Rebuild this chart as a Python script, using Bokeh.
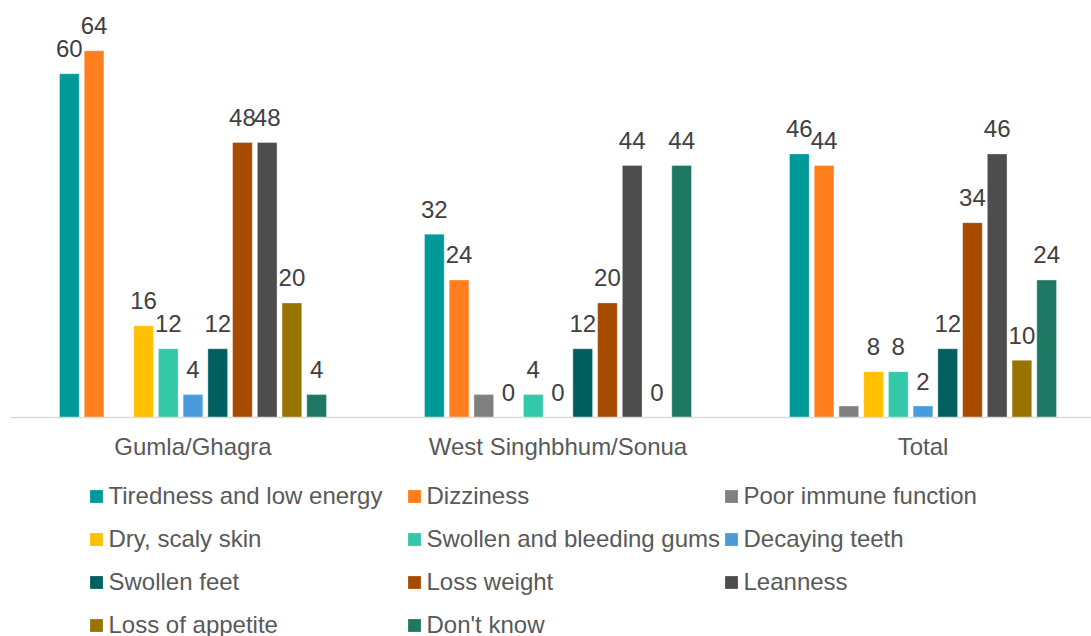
from bokeh.plotting import figure
from bokeh.layouts import column
from bokeh.models import ColumnDataSource, Range1d, FixedTicker, Legend, LegendItem
from bokeh.core.properties import value
from bokeh.embed import file_html
from bokeh.resources import INLINE

# Districts shown along the x axis
districts = ["Gumla/Ghagra", "West Singhbhum/Sonua", "Total"]

# Percentage of respondents naming each symptom, per district
symptoms = [
    "Tiredness and low energy",
    "Dizziness",
    "Poor immune function",
    "Dry, scaly skin",
    "Swollen and bleeding gums",
    "Decaying teeth",
    "Swollen feet",
    "Loss weight",
    "Leanness",
    "Loss of appetite",
    "Don't know",
]
tiredness = [60, 32, 46]
dizziness = [64, 24, 44]
poor_immune = [0, 4, 2]
dry_skin = [16, 0, 8]
bleeding_gums = [12, 4, 8]
decaying_teeth = [4, 0, 2]
swollen_feet = [12, 12, 12]
loss_weight = [48, 20, 34]
leanness = [48, 44, 46]
loss_appetite = [20, 0, 10]
dont_know = [4, 44, 24]

series = [tiredness, dizziness, poor_immune, dry_skin, bleeding_gums,
          decaying_teeth, swollen_feet, loss_weight, leanness,
          loss_appetite, dont_know]

# Value labels are shown for every series except "Poor immune function"
labelled = [True, True, False, True, True, True, True, True, True, True, True]

colors = ["#009999", "#FF7F1E", "#808080", "#FFC000", "#32C8A8", "#4A9BDC",
          "#005F5F", "#A64B00", "#4D4D4D", "#997300", "#1F7864"]

FONT = "Liberation Sans"
PX_PER_CAT = 365.0
PITCH = 0.06775
BAR_W = 0.054
WIDTH = 1091
CHART_H = 470
LEGEND_H = 166

# ---- bar chart -------------------------------------------------------------
p = figure(width=WIDTH, height=CHART_H, output_backend="svg",
           toolbar_location=None,
           x_range=Range1d(-0.5, -0.5 + 1081 / PX_PER_CAT),
           y_range=Range1d(0, 407 / 5.73),
           y_axis_location=None,
           min_border_left=10, min_border_right=0,
           min_border_top=10, min_border_bottom=CHART_H - 417)
p.outline_line_color = None
p.xgrid.grid_line_color = None
p.ygrid.grid_line_color = None
p.background_fill_color = "white"
p.border_fill_color = "white"

for j, (name, vals, col) in enumerate(zip(symptoms, series, colors)):
    xs = [i + (j - 5) * PITCH for i in range(len(districts))]
    src = ColumnDataSource(dict(x=xs, top=vals,
                                label=[str(v) for v in vals]))
    p.vbar(x="x", top="top", width=BAR_W, bottom=0, source=src,
           fill_color=col, line_color="white", line_alpha=0.35,
           line_width=1)
    if labelled[j]:
        p.text(x="x", y="top", text="label", source=src,
               text_font=value(FONT), text_font_size="24px",
               text_color="#404040", text_align="center",
               text_baseline="alphabetic", y_offset=-25)

# Category axis
ax = p.xaxis[0]
ax.ticker = FixedTicker(ticks=[0, 1, 2])
ax.major_label_overrides = {i: d for i, d in enumerate(districts)}
ax.major_label_text_font = FONT
ax.major_label_text_font_size = "24px"
ax.major_label_text_color = "#595959"
ax.major_label_standoff = 9
ax.major_tick_line_color = None
ax.minor_tick_line_color = None
ax.axis_line_color = "#D9D9D9"
ax.axis_line_width = 1.5

# ---- legend strip ----------------------------------------------------------
lg = figure(width=WIDTH, height=LEGEND_H, output_backend="svg",
            toolbar_location=None,
            x_range=Range1d(0, WIDTH), y_range=Range1d(0, LEGEND_H),
            x_axis_location=None, y_axis_location=None,
            min_border_left=0, min_border_right=0,
            min_border_top=0, min_border_bottom=0)
lg.outline_line_color = None
lg.xgrid.grid_line_color = None
lg.ygrid.grid_line_color = None
lg.background_fill_color = "white"
lg.border_fill_color = "white"

# one swatch renderer per series; its single point is undefined, so only
# the legend entry is drawn
swatches = [lg.vbar(x=[float("nan")], top=[float("nan")], width=1,
                    fill_color=col, line_color=None)
            for col in colors]

columns = [[0, 3, 6, 9], [1, 4, 7, 10], [2, 5, 8]]
col_x = [77.5, 395.5, 712.5]
ROW_H = 30
ROW_GAP = 13
TOP_Y = 11.3
for cx, idxs in zip(col_x, columns):
    n = len(idxs)
    height = n * ROW_H + (n - 1) * ROW_GAP
    vy = LEGEND_H - (TOP_Y + height)
    leg = Legend(items=[LegendItem(label=symptoms[k], renderers=[swatches[k]])
                        for k in idxs],
                 location=(cx, vy), orientation="vertical",
                 glyph_width=16, glyph_height=16, label_height=ROW_H,
                 label_standoff=5, spacing=ROW_GAP, padding=0, margin=0,
                 border_line_color=None, background_fill_alpha=0,
                 label_text_font=FONT, label_text_font_size="24px",
                 label_text_color="#595959")
    lg.add_layout(leg, "center")

layout = column(p, lg, spacing=0)
open("out.html", "w").write(file_html(layout, INLINE))
